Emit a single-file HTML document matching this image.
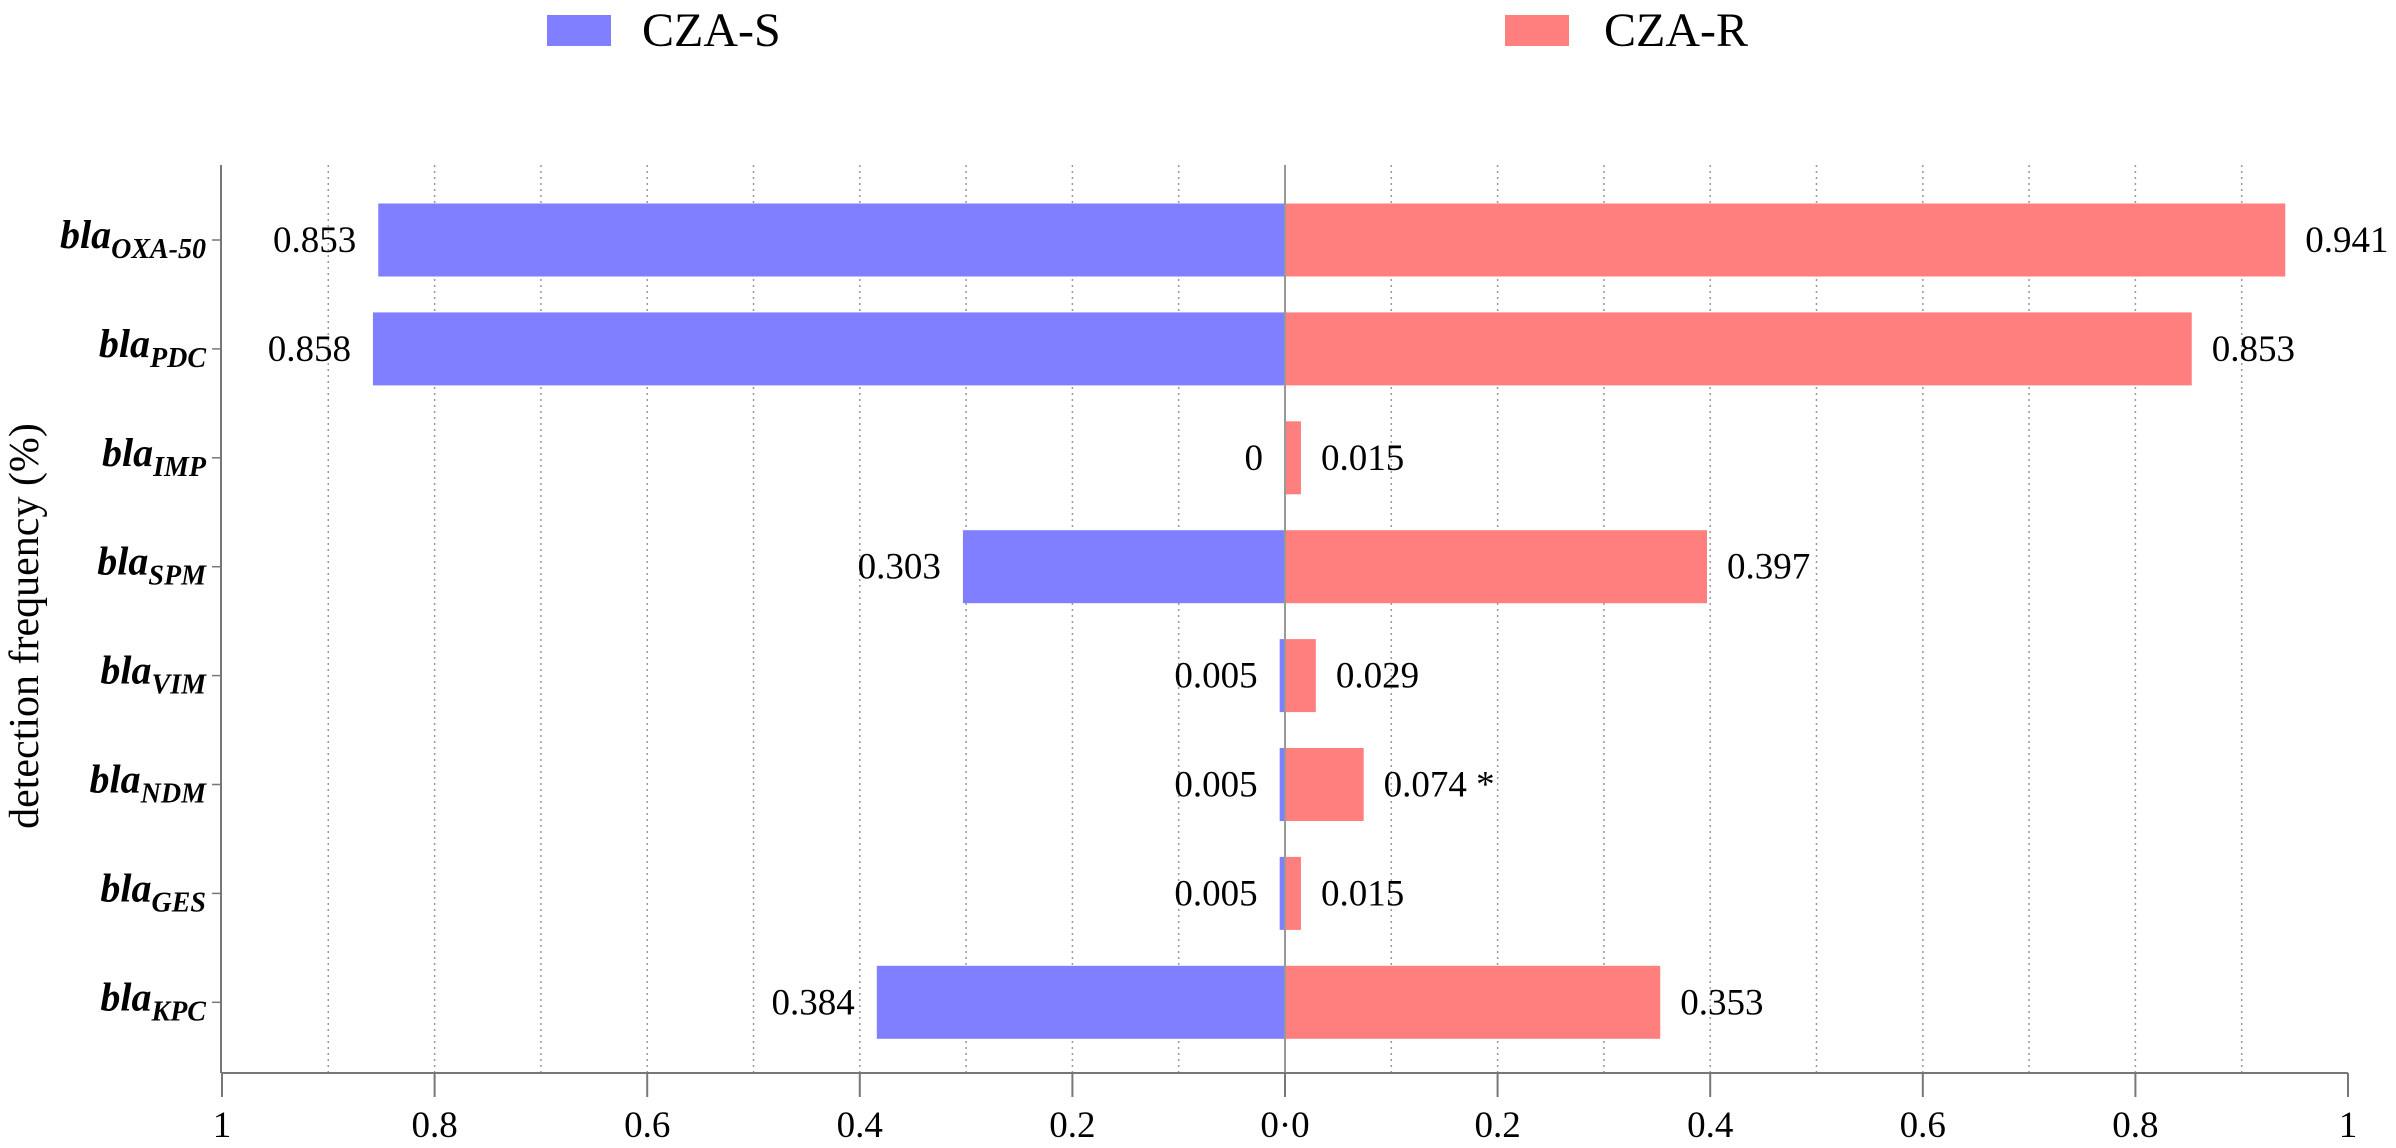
<!DOCTYPE html>
<html><head><meta charset="utf-8"><style>
html,body{margin:0;padding:0;background:#fff;}
svg, svg text{font-family:"Liberation Serif","Times New Roman",serif;}
svg{display:block;}
</style></head><body>
<svg id="chart" width="2396" height="1148" viewBox="0 0 2396 1148" xmlns="http://www.w3.org/2000/svg" font-family="Liberation Serif, serif">
<g>
<rect x="547" y="15" width="64" height="31" fill="#7f7fff"/>
<text x="642" y="46" font-size="48" font-family="Liberation Serif, serif">CZA-S</text>
<rect x="1505" y="15" width="64" height="31" fill="#ff7f7f"/>
<text x="1604" y="46" font-size="48" font-family="Liberation Serif, serif">CZA-R</text>
</g>
<text transform="translate(38,626) rotate(-90)" text-anchor="middle" font-size="42" font-family="Liberation Serif, serif">detection frequency (%)</text>
<g id="grid"></g><g id="bars"></g><g id="axes"></g><g id="labels" font-family="Liberation Serif, serif"></g>
</svg>
<script>
const categories = ["OXA-50","PDC","IMP","SPM","VIM","NDM","GES","KPC"];
const valuesS = [0.853,0.858,0,0.303,0.005,0.005,0.005,0.384];
const valuesR = [0.941,0.853,0.015,0.397,0.029,0.074,0.015,0.353];
const labelsS = ["0.853","0.858","0","0.303","0.005","0.005","0.005","0.384"];
const labelsR = ["0.941","0.853","0.015","0.397","0.029","0.074 *","0.015","0.353"];
const tickValues = [-1,-0.8,-0.6,-0.4,-0.2,0,0.2,0.4,0.6,0.8,1];
const tickLabels = ["1","0.8","0.6","0.4","0.2","0·0","0.2","0.4","0.6","0.8","1"];

const NS="http://www.w3.org/2000/svg";
const FF="Liberation Serif, serif";
const cx=1285, unit=1063, plotTop=165, axisY=1073, y0=240, step=108.9, bh=73;
function xs(v){return cx+v*unit;}
function ys(i){return y0+i*step;}
function mk(tag,attrs,parent,txt){const e=document.createElementNS(NS,tag);for(const k in attrs)e.setAttribute(k,attrs[k]);if(tag==='text')e.setAttribute('font-family',FF);if(txt!==undefined)e.textContent=txt;document.getElementById(parent).appendChild(e);return e;}

for(let k=-9;k<=9;k++){ if(k===0)continue;
  const g=mk('line',{x1:xs(k/10),x2:xs(k/10),y1:plotTop,y2:axisY,stroke:'#999','stroke-width':1.5,'stroke-dasharray':'2,4'},'grid');
  
  
}
categories.forEach((c,i)=>{
  const cy=ys(i);
  const bs=mk('rect',{x:xs(-valuesS[i]),y:cy-bh/2,width:valuesS[i]*unit,height:bh,fill:'#7f7fff'},'bars');
  
  
  const br=mk('rect',{x:xs(0),y:cy-bh/2,width:valuesR[i]*unit,height:bh,fill:'#ff7f7f'},'bars');
  
  
  const ls=mk('text',{x:xs(-valuesS[i])-22,y:cy+12,'text-anchor':'end','font-size':37},'labels',labelsS[i]);
  
  
  const lr=mk('text',{x:xs(valuesR[i])+20,y:cy+12,'font-size':37},'labels',labelsR[i]);
  
  
  const cl=mk('text',{x:206,y:cy+8,'text-anchor':'end','font-size':40,'font-weight':'bold','font-style':'italic'},'labels');
  
  
  const t1=document.createElementNS(NS,'tspan');t1.textContent='bla';cl.appendChild(t1);
  const t2=document.createElementNS(NS,'tspan');t2.setAttribute('font-size','28');t2.setAttribute('dy','10');t2.textContent=c;cl.appendChild(t2);
  const tk=mk('line',{x1:212,x2:221,y1:cy,y2:cy,stroke:'#777','stroke-width':1.5},'axes');
  
  
});
let a=mk('line',{x1:221,x2:221,y1:plotTop,y2:axisY,stroke:'#777','stroke-width':2},'axes');


a=mk('line',{x1:cx,x2:cx,y1:plotTop,y2:axisY,stroke:'#999','stroke-width':2},'axes');


a=mk('line',{x1:xs(-1),x2:xs(1),y1:axisY,y2:axisY,stroke:'#777','stroke-width':2},'axes');


tickValues.forEach((v,i)=>{
  const t=mk('line',{x1:xs(v),x2:xs(v),y1:axisY,y2:axisY+24,stroke:'#777','stroke-width':2},'axes');
  
  
  const l=mk('text',{x:xs(v),y:1137,'text-anchor':'middle','font-size':37},'labels',tickLabels[i]);
  
  
});
</script>
</body></html>
